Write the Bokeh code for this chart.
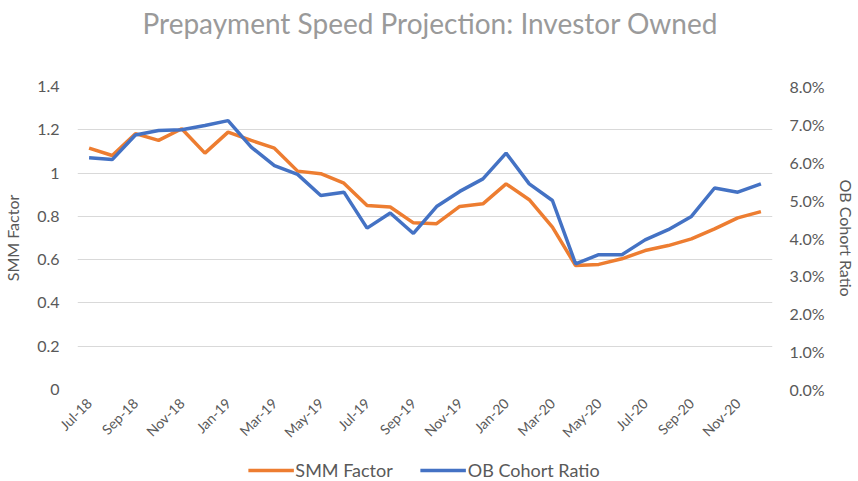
import math
from bokeh.plotting import figure
from bokeh.layouts import column
from bokeh.models import (Range1d, LinearAxis, FixedTicker, PrintfTickFormatter,
                          Legend, LegendItem, Label)
from bokeh.embed import file_html
from bokeh.resources import INLINE

title_text = "Prepayment Speed Projection: Investor Owned"
months = ["Jul-18", "Aug-18", "Sep-18", "Oct-18", "Nov-18", "Dec-18",
          "Jan-19", "Feb-19", "Mar-19", "Apr-19", "May-19", "Jun-19",
          "Jul-19", "Aug-19", "Sep-19", "Oct-19", "Nov-19", "Dec-19",
          "Jan-20", "Feb-20", "Mar-20", "Apr-20", "May-20", "Jun-20",
          "Jul-20", "Aug-20", "Sep-20", "Oct-20", "Nov-20", "Dec-20"]
smm_factor = [1.115, 1.081, 1.182, 1.151, 1.205, 1.092, 1.189, 1.151, 1.115, 1.009,
              0.997, 0.953, 0.850, 0.843, 0.770, 0.766, 0.846, 0.858, 0.950, 0.877,
              0.750, 0.573, 0.578, 0.604, 0.642, 0.665, 0.696, 0.742, 0.793, 0.822]
ob_cohort_pct = [6.12, 6.07, 6.72, 6.84, 6.86, 6.97, 7.10, 6.40, 5.91, 5.68,
                 5.12, 5.21, 4.26, 4.66, 4.12, 4.83, 5.23, 5.56, 6.24, 5.43,
                 4.99, 3.32, 3.56, 3.56, 3.95, 4.22, 4.57, 5.32, 5.21, 5.43]
left_ticks = [0, 0.2, 0.4, 0.6, 0.8, 1.0, 1.2, 1.4]
left_tick_labels = ["0", "0.2", "0.4", "0.6", "0.8", "1", "1.2", "1.4"]
right_ticks = [0, 1, 2, 3, 4, 5, 6, 7, 8]
series_names = ["SMM Factor", "OB Cohort Ratio"]

GRAY = "#595959"
FONT = "Lato"
ORANGE = "#ED7D31"
BLUE = "#4472C4"

xs = list(range(len(months)))

# ---- title strip ----
tt = figure(width=856, height=44, output_backend="svg", toolbar_location=None,
            x_axis_location=None, y_axis_location=None,
            x_range=Range1d(0, 1), y_range=Range1d(0, 1),
            min_border=0)
tt.outline_line_color = None
tt.grid.visible = False
tt.add_layout(Label(x=0.509, y=0.5, text=title_text, text_align="center",
                    text_baseline="middle", text_font=FONT, text_font_size="28px",
                    text_color="#9a9a9a"))

# ---- main chart ----
p = figure(frame_width=695, frame_height=303, output_backend="svg", toolbar_location=None,
           x_range=Range1d(-0.5, len(months) - 0.5), y_range=Range1d(0, 1.4),
           min_border_left=76, min_border_right=85, min_border_top=42,
           min_border_bottom=70)
p.outline_line_color = None
p.extra_y_ranges = {"pct": Range1d(0, 8)}

# left axis
ya = p.yaxis[0]
ya.ticker = FixedTicker(ticks=left_ticks)
ya.major_label_overrides = {t: l for t, l in zip(left_ticks, left_tick_labels)}
ya.axis_label = series_names[0]

# right axis
ra = LinearAxis(y_range_name="pct", ticker=FixedTicker(ticks=right_ticks),
                formatter=PrintfTickFormatter(format="%.1f%%"),
                axis_label=series_names[1])
p.add_layout(ra, "right")

# bottom axis
xa = p.xaxis[0]
xa.ticker = FixedTicker(ticks=xs[::2])
xa.major_label_overrides = {i: months[i] for i in xs[::2]}
xa.major_label_orientation = math.pi / 4

for ax in [ya, ra, xa]:
    ax.axis_line_color = None
    ax.major_tick_line_color = None
    ax.minor_tick_line_color = None
    ax.major_tick_out = 0
    ax.major_tick_in = 0
    ax.major_label_text_color = GRAY
    ax.major_label_text_font = FONT
    ax.major_label_text_font_size = "16px"
    ax.axis_label_text_color = GRAY
    ax.axis_label_text_font = FONT
    ax.axis_label_text_font_size = "16px"
    ax.axis_label_text_font_style = "normal"
ya.major_label_standoff = 18
ya.axis_label_standoff = 12
ra.major_label_standoff = 17
ra.axis_label_standoff = 9
xa.major_label_standoff = 11
xa.major_label_text_font_size = "14px"

p.xgrid.grid_line_color = None
p.ygrid.ticker = FixedTicker(ticks=left_ticks)
p.ygrid.grid_line_color = "#d9d9d9"
p.ygrid.grid_line_width = 1

r1 = p.line(xs, smm_factor, line_color=ORANGE, line_width=3.5)
r2 = p.line(xs, ob_cohort_pct, line_color=BLUE, line_width=3.5, y_range_name="pct")

# ---- legend strip (series drawn off-range so only the legend keys show) ----
lg = figure(width=856, height=22, output_backend="svg", toolbar_location=None,
            x_axis_location=None, y_axis_location=None,
            x_range=Range1d(-100, -99), y_range=Range1d(-100, -99),
            min_border_left=60, min_border_right=0, min_border_top=0,
            min_border_bottom=0)
lg.outline_line_color = None
lg.grid.visible = False
k1 = lg.line(xs, smm_factor, line_color=ORANGE, line_width=3.5)
k2 = lg.line(xs, ob_cohort_pct, line_color=BLUE, line_width=3.5)
legend = Legend(items=[LegendItem(label=series_names[0], renderers=[k1]),
                       LegendItem(label=series_names[1], renderers=[k2])],
                orientation="horizontal", location="center",
                label_text_font=FONT, label_text_font_size="18px",
                label_text_color=GRAY, glyph_width=46, label_standoff=2,
                spacing=27, border_line_color=None, background_fill_alpha=0,
                padding=0, margin=0)
lg.add_layout(legend, "center")

layout = column(tt, p, lg, spacing=0)
open("out.html", "w").write(file_html(layout, INLINE))
